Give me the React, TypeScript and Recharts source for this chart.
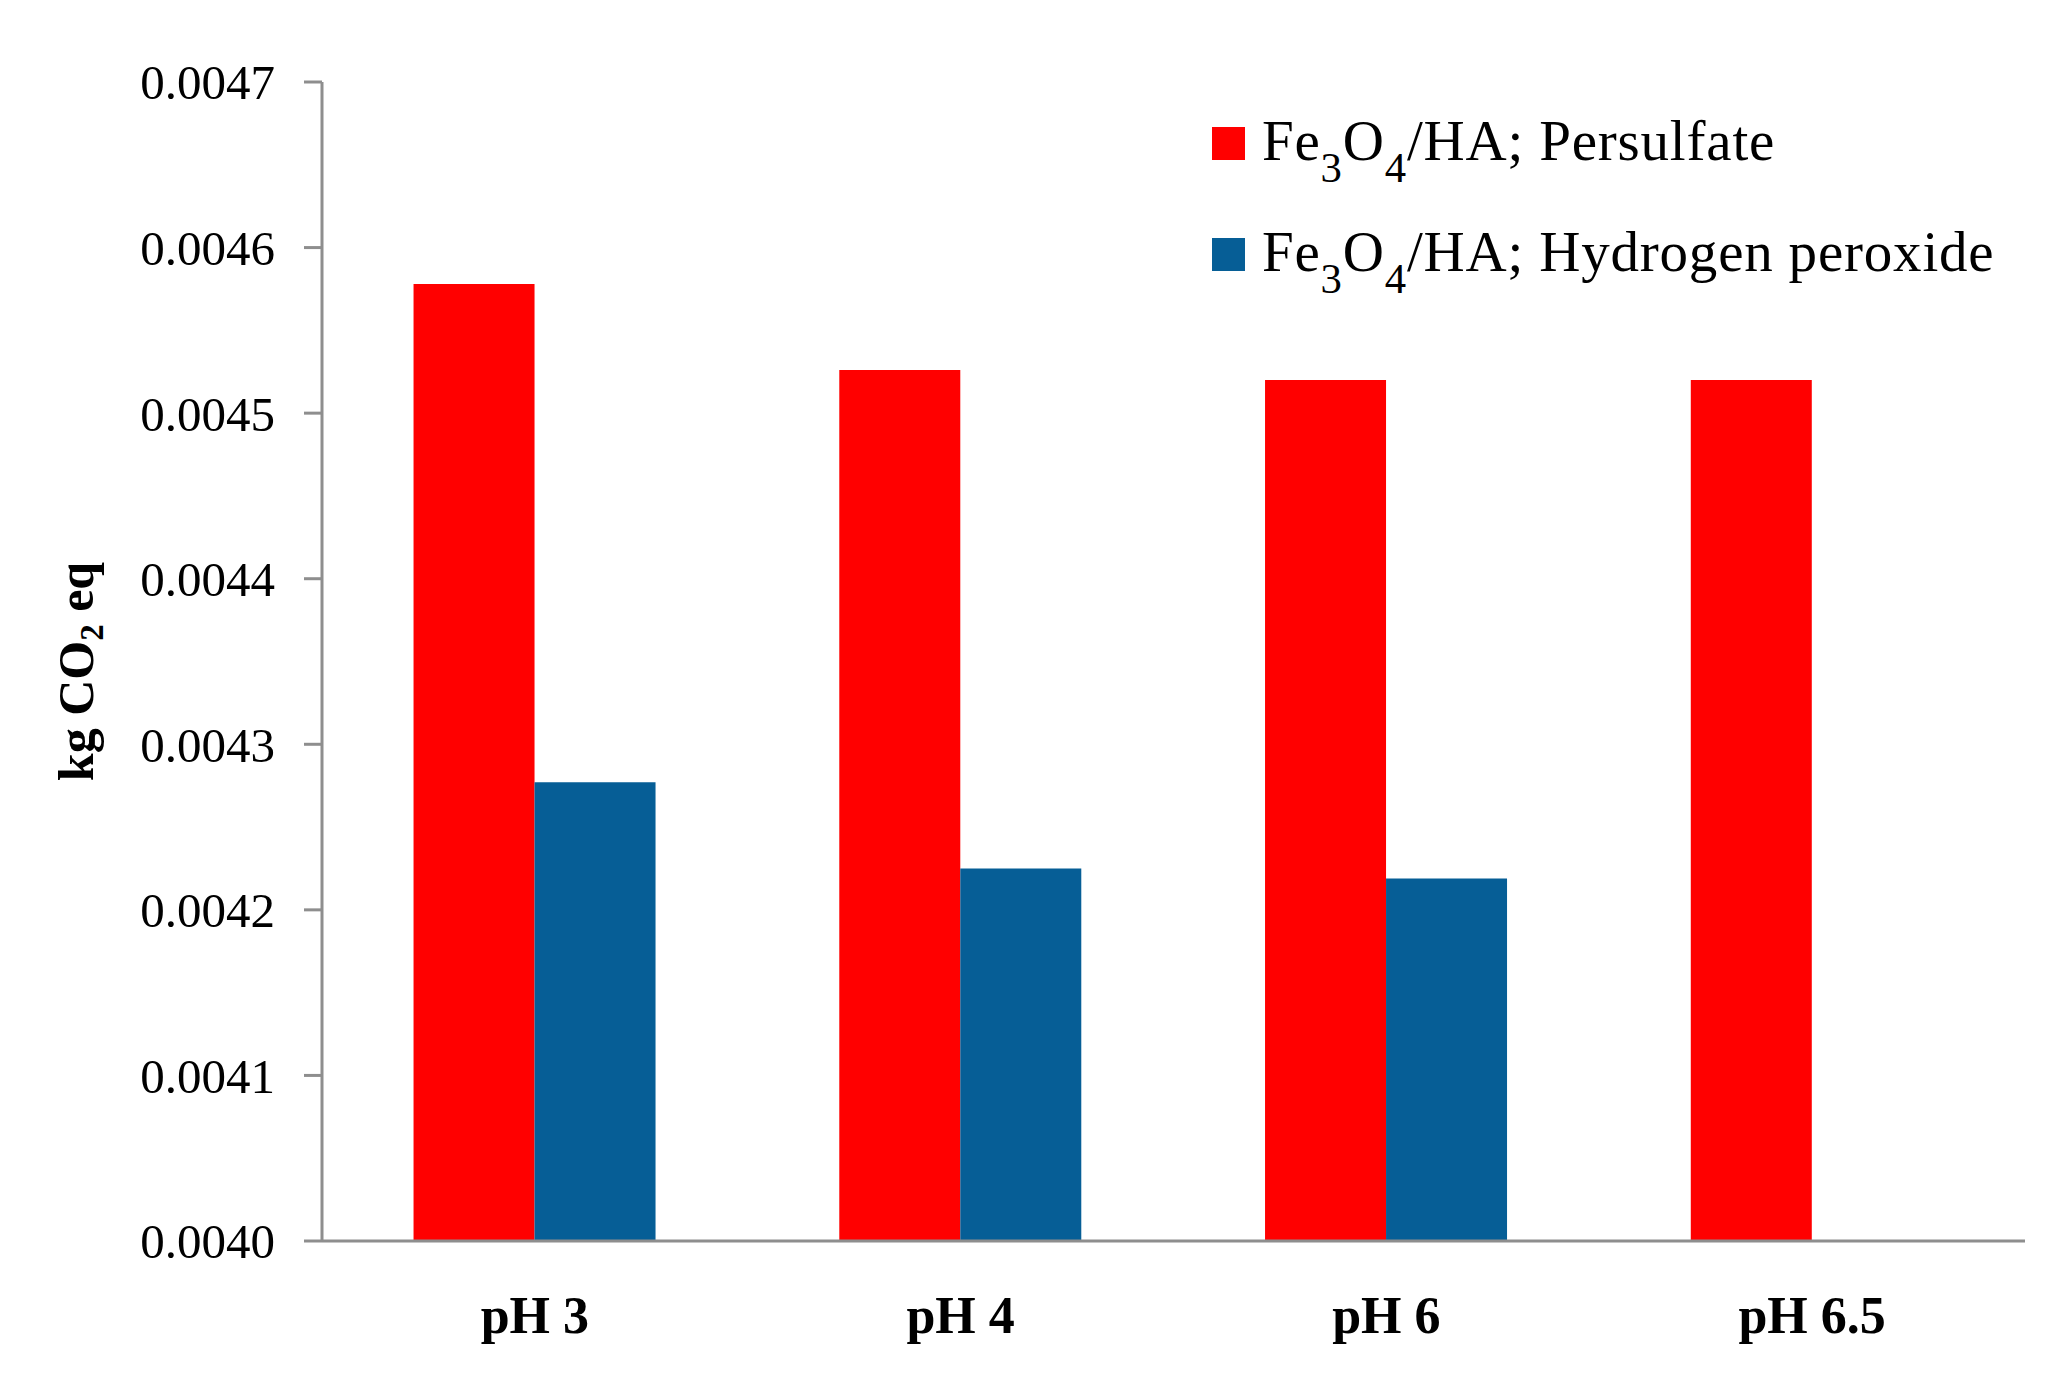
import { BarChart, Bar, XAxis, YAxis, Legend } from "recharts";

const categories = ["pH 3", "pH 4", "pH 6", "pH 6.5"];
const persulfate = [0.004578, 0.004526, 0.00452, 0.00452];
const peroxide: (number | null)[] = [0.004277, 0.004225, 0.004219, null];
const yTicks = [0.004, 0.0041, 0.0042, 0.0043, 0.0044, 0.0045, 0.0046, 0.0047];
const seriesNames = ["Fe3O4/HA; Persulfate", "Fe3O4/HA; Hydrogen peroxide"];

const data = categories.map((c, i) => ({
  name: c,
  persulfate: persulfate[i],
  peroxide: peroxide[i],
}));

const SERIF = "'Liberation Serif', 'DejaVu Serif', serif";
const AXIS = "#8e8e8e";

// split "Fe3O4" style names so digits after letters become subscripts
function withSubs(text: string) {
  const parts = text.split(/(\d)/);
  return parts.map((p, i) =>
    /^\d$/.test(p) ? (
      <span key={i} style={{ fontSize: "0.75em", verticalAlign: "-0.52em", lineHeight: 0 }}>
        {p}
      </span>
    ) : (
      <span key={i}>{p}</span>
    )
  );
}

function LegendBox(props: any) {
  const items = [...(props.payload || [])].sort(
    (a: any, b: any) => seriesNames.indexOf(a.value) - seriesNames.indexOf(b.value)
  );
  return (
    <div style={{ fontFamily: SERIF, fontSize: 57, color: "#000", letterSpacing: 0.8 }}>
      {items.map((it: any) => (
        <div
          key={it.value}
          style={{ display: "flex", alignItems: "baseline", height: 111, lineHeight: "111px", whiteSpace: "nowrap" }}
        >
          <span style={{ display: "inline-block", width: 33, height: 33, background: it.color, marginRight: 17 }} />
          <span>{withSubs(it.value)}</span>
        </div>
      ))}
    </div>
  );
}

function YLabel(props: any) {
  const vb = props.viewBox || {};
  const cx = 93;
  const cy = (vb.y || 0) + (vb.height || 0) / 2 + 10;
  return (
    <text
      x={cx}
      y={cy}
      transform={`rotate(-90, ${cx}, ${cy})`}
      textAnchor="middle"
      fontFamily={SERIF}
      fontWeight="bold"
      fontSize={50}
      fill="#000"
    >
      <tspan>kg CO</tspan>
      <tspan fontSize={33} dy={10}>2</tspan>
      <tspan dy={-10}> eq</tspan>
    </text>
  );
}

export default function App() {
  return (
    <div style={{ width: 2070, height: 1397, background: "#fff", position: "relative" }}>
      <style>{`body{margin:0}`}</style>
      <BarChart
        width={2070}
        height={1397}
        data={data}
        margin={{ top: 82, right: 45, left: 0, bottom: 0 }}
        barCategoryGap="21.5%"
        barGap={0}
      >
        <XAxis
          dataKey="name"
          height={156}
          axisLine={{ stroke: AXIS, strokeWidth: 3 }}
          tickLine={false}
          tickSize={0}
          tickMargin={55}
          tick={{ fill: "#000", fontSize: 52, fontFamily: SERIF, fontWeight: "bold" }}
        />
        <YAxis
          width={322}
          domain={[0.004, 0.0047]}
          ticks={yTicks}
          interval={0}
          tickFormatter={(v: number) => v.toFixed(4)}
          axisLine={{ stroke: AXIS, strokeWidth: 3 }}
          tickLine={{ stroke: AXIS, strokeWidth: 3 }}
          tickSize={18}
          tickMargin={29}
          tick={{ fill: "#000", fontSize: 49, fontFamily: SERIF }}
          label={{ content: YLabel }}
        />
        <Legend
          layout="horizontal"
          verticalAlign="middle"
          align="center"
          content={LegendBox}
          wrapperStyle={{ left: 1212, top: 85, width: 850 }}
        />
        <Bar dataKey="persulfate" name={seriesNames[0]} fill="#ff0000" isAnimationActive={false} />
        <Bar dataKey="peroxide" name={seriesNames[1]} fill="#065e96" isAnimationActive={false} />
      </BarChart>
    </div>
  );
}
